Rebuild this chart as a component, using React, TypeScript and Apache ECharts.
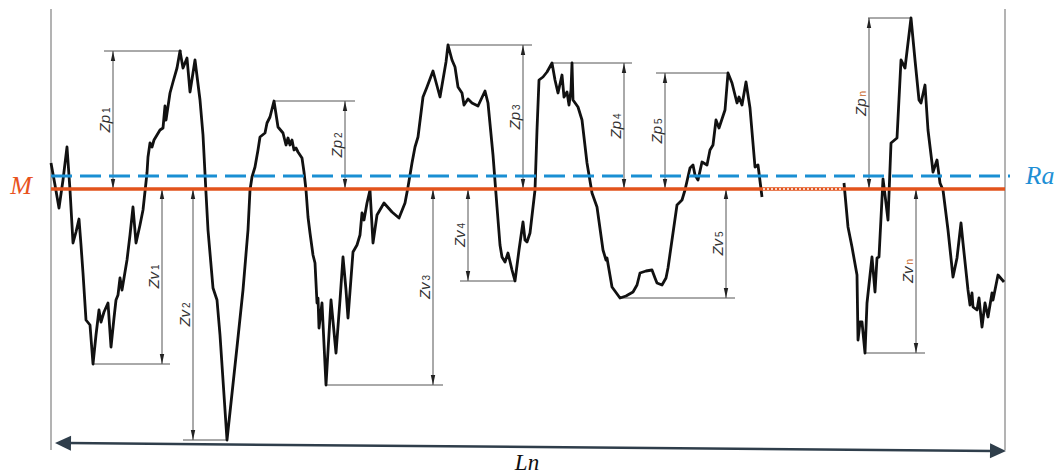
import React, { useEffect, useRef } from "react";
import * as echarts from "echarts";

// Profile heights relative to the mean line M (pixel units), x along the evaluation length
const PROFILE_A: [number, number][] = [
  [51, 26], [55, 4], [59, -19], [63, 9], [67, 42], [70, -1], [73, -54], [76, -43], [79, -30], [81, -56],
  [83, -84], [86, -131], [90, -136], [93, -175], [96, -146], [99, -121], [101, -133], [104, -123], [108, -114],
  [111, -158], [114, -129], [116, -111], [118, -106], [120, -89], [122, -101], [125, -83], [127, -71], [130, -46],
  [133, -18], [136, -54], [140, -36], [143, -21], [147, 16], [148, 32], [150, 46], [152, 42], [154, 49], [157, 54],
  [160, 59], [163, 61], [165, 83], [166, 69], [170, 96], [173, 107], [177, 121], [180, 138], [183, 121], [187, 131],
  [190, 97], [195, 129], [200, 89], [203, 54], [206, -4], [208, -41], [213, -99], [217, -111], [220, -146],
  [223, -191], [227, -251], [237, -158], [243, -101], [248, -41], [250, -1], [252, 12], [255, 22], [258, 39],
  [260, 52], [265, 56], [267, 66], [270, 72], [274, 88], [278, 62], [283, 56], [286, 44], [288, 51], [290, 44],
  [292, 49], [294, 39], [296, 41], [298, 37], [302, 31], [304, 17], [306, -1], [308, -28], [310, -44], [313, -66],
  [315, -74], [317, -114], [318, -109], [319, -139], [322, -114], [326, -196], [331, -111], [336, -164], [340, -111],
  [343, -68], [346, -101], [348, -129], [353, -63], [357, -56], [360, -46], [362, -24], [364, -31], [367, -14],
  [370, -1], [373, -54], [377, -26], [384, -14], [392, -23], [399, -29], [405, -14], [408, 2], [412, 26], [415, 42],
  [418, 52], [423, 92], [427, 102], [433, 118], [440, 92], [446, 127], [448, 144], [452, 129], [455, 122], [458, 102],
  [462, 96], [464, 84], [468, 90], [472, 86], [478, 83], [485, 98], [488, 86], [493, 34], [497, -18], [500, -56],
  [502, -68], [505, -73], [508, -64], [512, -81], [515, -92], [519, -61], [523, -33], [525, -51], [527, -53],
  [530, -44], [535, -1], [537, 59], [539, 109], [543, 112], [547, 117], [552, 126], [555, 109], [558, 96], [562, 114],
  [564, 92], [567, 97], [569, 84], [571, 99], [572, 126], [573, 89], [578, 82], [582, 69], [587, 26], [592, -4],
  [597, -18], [603, -61], [606, -71], [607, -69], [612, -98], [620, -109], [626, -107], [633, -103], [637, -96],
  [640, -84], [646, -82], [652, -81], [655, -89], [657, -94], [662, -96], [666, -89], [668, -79], [673, -44],
  [677, -16], [682, -11], [685, -1], [690, 21], [693, 24], [695, 14], [698, 9], [702, 27], [707, 24], [710, 39],
  [713, 44], [716, 69], [719, 61], [725, 79], [728, 116], [732, 106], [737, 86], [739, 92], [742, 84], [746, 107],
  [750, 81], [755, 22], [758, 24], [762, -8],
];

const PROFILE_B: [number, number][] = [
  [844, 6], [848, -38], [852, -58], [857, -86], [858, -151], [860, -133], [862, -133], [865, -164], [867, -114],
  [872, -68], [875, -103], [877, -69], [879, -68], [883, 10], [885, -6], [888, -31], [891, 46], [897, 51], [901, 129],
  [905, 121], [911, 171], [915, 129], [919, 89], [921, 86], [925, 104], [928, 59], [932, 26], [933, 17], [937, 29],
  [940, 6], [943, -1], [948, -41], [953, -88], [957, -69], [961, -34], [963, -54], [968, -101], [970, -116],
  [972, -104], [973, -118], [977, -121], [979, -109], [982, -138], [985, -114], [988, -128], [992, -104],
  [993, -111], [998, -86], [1004, -93],
];

// Reference lines
const M_LINE: [number, number][] = [[51, 0], [1005, 0]];
const M_GAP: [number, number][] = [[763, 0], [843, 0]];
const RA_LINE: [number, number][] = [[51, 13], [1010, 13]];
const LEFT_BOUND: [number, number][] = [[51, 180], [51, -261]];
const RIGHT_BOUND: [number, number][] = [[1005, 180], [1005, -261]];
const LN_ARROW: [number, number, number, number][] = [[55, -254, 1006, -262]];

// Peak / valley annotations
const SUBSCRIPTS = ["1", "2", "3", "4", "5", "n"];
const ZP_ARROW_X = [113, 345, 523, 624, 665, 869];
const ZP_HEIGHT = [138, 88, 144, 126, 116, 171];
const ZP_LINE_FROM = [104, 273, 448, 552, 656, 868];
const ZP_LINE_TO = [182, 355, 532, 632, 728, 911];
const ZV_ARROW_X = [162, 193, 433, 468, 726, 916];
const ZV_DEPTH = [-175, -251, -196, -92, -109, -164];
const ZV_LINE_FROM = [93, 183, 326, 460, 620, 865];
const ZV_LINE_TO = [170, 227, 443, 515, 735, 925];

const ANNOT_COLOR = "#555555";

function makeAnnotRender(prefix: string) {
  return (params: any, api: any) => {
    const x = api.value(0);
    const yEnd = api.value(1);
    const x0 = api.value(2);
    const x1 = api.value(3);
    const sub = SUBSCRIPTS[params.dataIndex];
    const pA = api.coord([x, 0]);
    const pB = api.coord([x, yEnd]);
    const pL0 = api.coord([x0, yEnd]);
    const pL1 = api.coord([x1, yEnd]);
    const dir = pB[1] < pA[1] ? -1 : 1;
    const L = 10;
    const W = 2.2;
    const midY = (pA[1] + pB[1]) / 2;
    return {
      type: "group",
      children: [
        {
          type: "line",
          shape: { x1: pL0[0], y1: pL0[1], x2: pL1[0], y2: pL1[1] },
          style: { stroke: ANNOT_COLOR, lineWidth: 1 },
        },
        {
          type: "line",
          shape: { x1: pA[0], y1: pA[1], x2: pB[0], y2: pB[1] },
          style: { stroke: ANNOT_COLOR, lineWidth: 1 },
        },
        {
          type: "polygon",
          shape: {
            points: [
              [pB[0], pB[1]],
              [pB[0] - W, pB[1] - dir * L],
              [pB[0] + W, pB[1] - dir * L],
            ],
          },
          style: { fill: "#222" },
        },
        {
          type: "polygon",
          shape: {
            points: [
              [pA[0], pA[1]],
              [pA[0] - W, pA[1] + dir * L],
              [pA[0] + W, pA[1] + dir * L],
            ],
          },
          style: { fill: "#222" },
        },
        {
          type: "text",
          x: pA[0] - 9,
          y: midY,
          rotation: Math.PI / 2,
          style: {
            text: "{z|Z" + prefix + "}{s|" + sub + "}",
            align: "center",
            verticalAlign: "middle",
            textAlign: "center",
            textVerticalAlign: "middle",
            rich: {
              z: {
                fontSize: 15,
                fontStyle: "italic",
                fontFamily: "Liberation Sans",
                fill: "#333",
              },
              s: {
                fontSize: 10,
                fontFamily: "Liberation Sans",
                fill: sub === "n" ? "#C8621E" : "#333",
                verticalAlign: "bottom",
                padding: [0, 0, 0, 2],
              },
            },
          },
        },
      ],
    };
  };
}

function renderLn(params: any, api: any) {
  const p0 = api.coord([api.value(0), api.value(1)]);
  const p1 = api.coord([api.value(2), api.value(3)]);
  const ang = Math.atan2(p1[1] - p0[1], p1[0] - p0[0]);
  const ux = Math.cos(ang), uy = Math.sin(ang);
  const nx = -uy, ny = ux;
  const L = 16, W = 7.5;
  const color = "#2F3E4B";
  return {
    type: "group",
    children: [
      {
        type: "line",
        shape: { x1: p0[0] + ux * L * 0.8, y1: p0[1] + uy * L * 0.8, x2: p1[0] - ux * L * 0.8, y2: p1[1] - uy * L * 0.8 },
        style: { stroke: color, lineWidth: 2.5 },
      },
      {
        type: "polygon",
        shape: {
          points: [
            [p0[0], p0[1]],
            [p0[0] + ux * L + nx * W, p0[1] + uy * L + ny * W],
            [p0[0] + ux * L - nx * W, p0[1] + uy * L - ny * W],
          ],
        },
        style: { fill: color },
      },
      {
        type: "polygon",
        shape: {
          points: [
            [p1[0], p1[1]],
            [p1[0] - ux * L + nx * W, p1[1] - uy * L + ny * W],
            [p1[0] - ux * L - nx * W, p1[1] - uy * L - ny * W],
          ],
        },
        style: { fill: color },
      },
    ],
  };
}

export default function App() {
  const ref = useRef<HTMLDivElement>(null);

  useEffect(() => {
    if (!ref.current) return;
    const chart = echarts.init(ref.current, null, { renderer: "svg" });

    const zpData = ZP_ARROW_X.map((x, i) => [x, ZP_HEIGHT[i], ZP_LINE_FROM[i], ZP_LINE_TO[i]]);
    const zvData = ZV_ARROW_X.map((x, i) => [x, ZV_DEPTH[i], ZV_LINE_FROM[i], ZV_LINE_TO[i]]);

    const lineSeries = (data: any, color: string, width: number, type: any = "solid", z = 2) => ({
      type: "line",
      data,
      symbol: "none",
      silent: true,
      z,
      lineStyle: { color, width, type, cap: "butt" },
    });

    chart.setOption({
      animation: false,
      backgroundColor: "#ffffff",
      grid: { left: 0, right: 0, top: 0, bottom: 0, containLabel: false },
      xAxis: { type: "value", min: 0, max: 1057, show: false },
      yAxis: { type: "value", min: -286, max: 189, show: false },
      series: [
        lineSeries(LEFT_BOUND, "#9a9a9a", 1.5, "solid", 1),
        lineSeries(RIGHT_BOUND, "#9a9a9a", 1.5, "solid", 1),
        {
          type: "custom",
          renderItem: makeAnnotRender("p"),
          data: zpData,
          clip: false,
          silent: true,
          z: 2,
        },
        {
          type: "custom",
          renderItem: makeAnnotRender("v"),
          data: zvData,
          clip: false,
          silent: true,
          z: 2,
        },
        {
          type: "line",
          data: PROFILE_A,
          symbol: "none",
          silent: true,
          z: 3,
          lineStyle: { color: "#111111", width: 2.8, join: "round" },
        },
        {
          type: "line",
          data: PROFILE_B,
          symbol: "none",
          silent: true,
          z: 3,
          lineStyle: { color: "#111111", width: 2.8, join: "round" },
        },
        lineSeries(M_LINE, "#E2531C", 3.5, "solid", 4),
        lineSeries(M_GAP, "#ffffff", 1.5, [2, 2], 5),
        lineSeries(RA_LINE, "#1A8FD3", 3, [21, 8], 4),
        {
          type: "custom",
          renderItem: renderLn,
          data: LN_ARROW,
          clip: false,
          silent: true,
          z: 4,
        },
      ],
      graphic: [
        {
          type: "text",
          x: 21,
          y: 185,
          style: {
            text: "M",
            fill: "#E8531E",
            font: "italic 26px 'Liberation Serif'",
            align: "center",
            verticalAlign: "middle",
            textAlign: "center",
            textVerticalAlign: "middle",
          },
        },
        {
          type: "text",
          x: 1040,
          y: 175,
          style: {
            text: "Ra",
            fill: "#1E8FD5",
            font: "italic 26px 'Liberation Serif'",
            align: "center",
            verticalAlign: "middle",
            textAlign: "center",
            textVerticalAlign: "middle",
          },
        },
        {
          type: "text",
          x: 527,
          y: 462,
          style: {
            text: "Ln",
            fill: "#111111",
            font: "italic 23px 'Liberation Serif'",
            align: "center",
            verticalAlign: "middle",
            textAlign: "center",
            textVerticalAlign: "middle",
          },
        },
      ],
    });

    return () => {
      chart.dispose();
    };
  }, []);

  return (
    <div
      ref={ref}
      style={{ position: "fixed", left: 0, top: 0, width: 1057, height: 475, background: "#fff" }}
    />
  );
}
